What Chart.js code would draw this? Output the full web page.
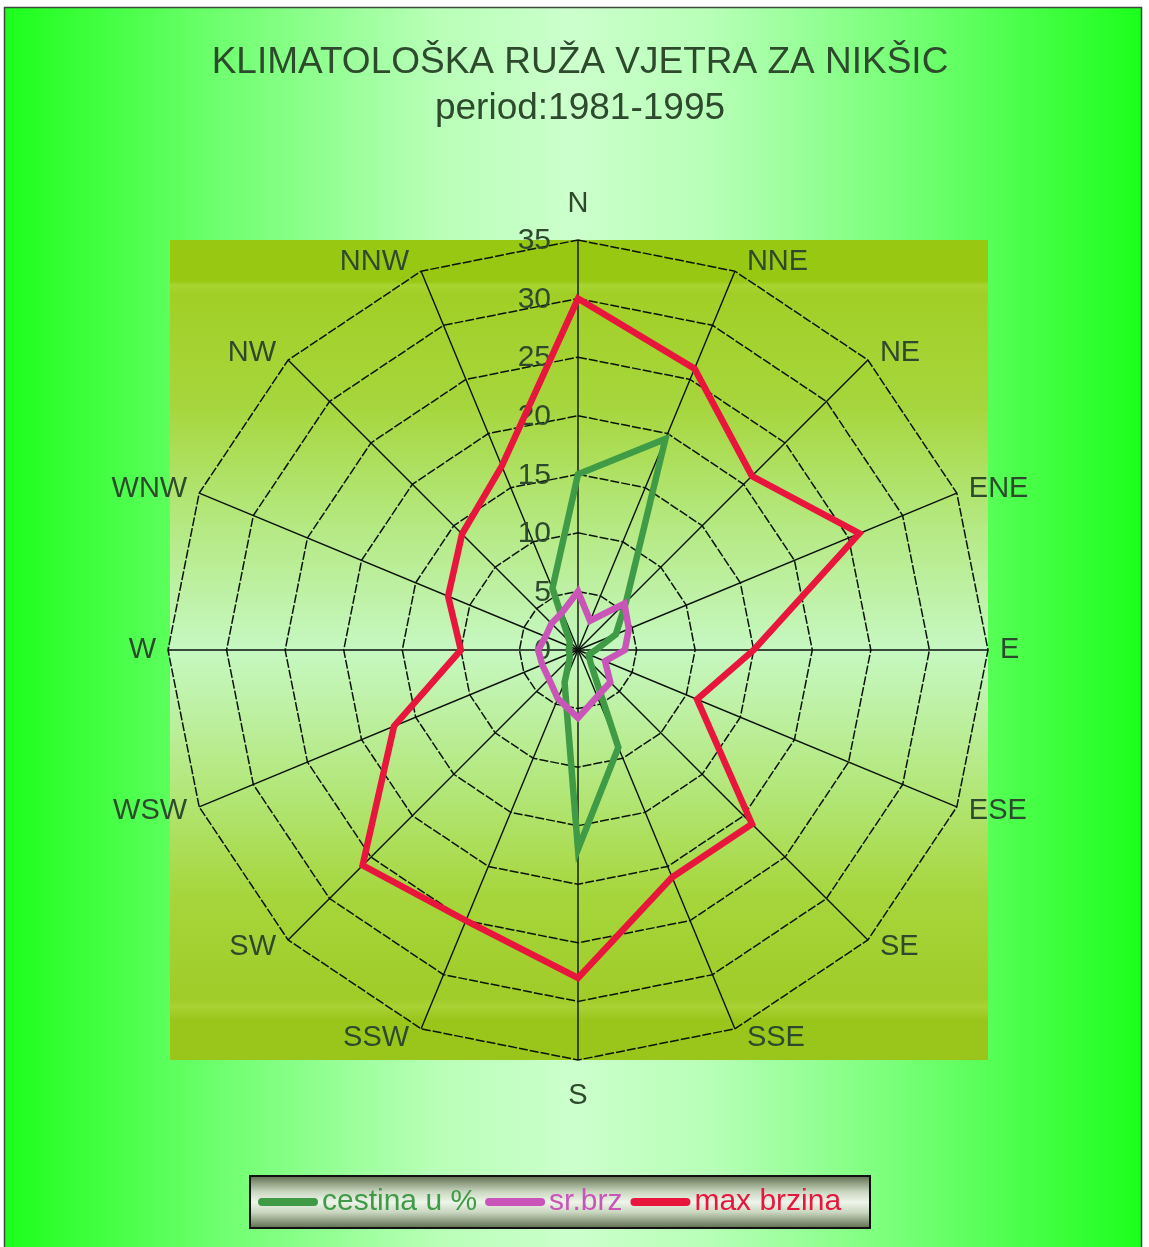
<!DOCTYPE html>
<html>
<head>
<meta charset="utf-8">
<title>Klimatološka ruža vjetra za Nikšic</title>
<script src="https://cdn.jsdelivr.net/npm/chart.js@4.4.1/dist/chart.umd.min.js"></script>
<style>
  html, body { margin: 0; padding: 0; background: #ffffff; }
  #wrap { width: 1149px; height: 1247px; position: relative; }
</style>
</head>
<body>
<div id="wrap"><canvas id="rose"></canvas></div>
<script>
// Wind directions (clockwise from north)
const directions = ['N', 'NNE', 'NE', 'ENE', 'E', 'ESE', 'SE', 'SSE', 'S', 'SSW', 'SW', 'WSW', 'W', 'WNW', 'NW', 'NNW'];
// Frequency of each direction, %
const frequency = [15, 19.5, 5.8, 3.5, 1.5, 1, 1.5, 9, 17, 3, 1, 0.8, 0.8, 0.8, 1, 5.7];
// Mean wind speed
const meanSpeed = [5, 2.7, 5.6, 4.7, 4, 2.5, 3.9, 4.3, 5.8, 4.5, 3.5, 3.3, 3.4, 3, 3.2, 3.5];
// Maximum wind speed
const maxSpeed = [30, 26, 21, 26, 15, 11, 21, 21, 28, 25, 26, 17, 10, 12, 14, 17];
// Series names
const seriesNames = ['cestina u %', 'sr.brz', 'max brzina'];
// Title lines
const titleLines = ['KLIMATOLOŠKA RUŽA VJETRA ZA NIKŠIC', 'period:1981-1995'];
// Radial axis range
const tickMin = 0;
const tickMax = 35;
const tickStep = 5;

const FONT = '"Liberation Sans", Arial, sans-serif';
const TEXT_DARK = '#2d4a2d';
const seriesColors = ['#3f9b46', '#c955b9', '#e8163c'];

// Page background, frame, shaded plot square and the title
const backdropPlugin = {
  id: 'backdrop',
  beforeDraw(chart) {
    const ctx = chart.ctx;
    const W = chart.width, H = chart.height;
    const a = chart.chartArea;
    const r = chart.scales.r;
    ctx.save();
    ctx.fillStyle = '#ffffff';
    ctx.fillRect(0, 0, W, H);

    const bg = ctx.createLinearGradient(4, 0, W - 8, 0);
    bg.addColorStop(0.00, '#1cff1c');
    bg.addColorStop(0.18, '#6bff6b');
    bg.addColorStop(0.38, '#b8ffb8');
    bg.addColorStop(0.50, '#ccffcc');
    bg.addColorStop(0.62, '#b8ffb8');
    bg.addColorStop(0.82, '#6bff6b');
    bg.addColorStop(1.00, '#1cff1c');
    ctx.fillStyle = bg;
    ctx.fillRect(4, 7, W - 12, H);
    ctx.strokeStyle = '#3c4a3c';
    ctx.lineWidth = 1.5;
    ctx.strokeRect(4.5, 7.5, W - 12, H + 20);

    const pg = ctx.createLinearGradient(0, a.top, 0, a.bottom);
    pg.addColorStop(0.000, '#98c812');
    pg.addColorStop(0.050, '#98c812');
    pg.addColorStop(0.055, '#a9d432');
    pg.addColorStop(0.065, '#a2cf26');
    pg.addColorStop(0.200, '#a6d63c');
    pg.addColorStop(0.340, '#b4e87e');
    pg.addColorStop(0.500, '#c6f8c2');
    pg.addColorStop(0.660, '#b4e87e');
    pg.addColorStop(0.800, '#a6d63c');
    pg.addColorStop(0.925, '#a0cc28');
    pg.addColorStop(0.935, '#a9d234');
    pg.addColorStop(0.950, '#9ac61c');
    pg.addColorStop(1.000, '#9ac61c');
    ctx.fillStyle = pg;
    ctx.fillRect(a.left + 2, a.top, a.right - a.left - 2, a.bottom - a.top);

    ctx.fillStyle = TEXT_DARK;
    ctx.font = '37px ' + FONT;
    ctx.textAlign = 'center';
    ctx.textBaseline = 'middle';
    ctx.fillText(titleLines[0], r.xCenter + 2, 63);
    ctx.fillText(titleLines[1], r.xCenter + 2, 109);
    ctx.restore();
  }
};

// Radial tick values, written left of the north spoke
const tickLabelPlugin = {
  id: 'tickLabels',
  beforeDatasetsDraw(chart) {
    const r = chart.scales.r;
    const ctx = chart.ctx;
    ctx.save();
    ctx.fillStyle = TEXT_DARK;
    ctx.font = '30px ' + FONT;
    ctx.textAlign = 'right';
    ctx.textBaseline = 'middle';
    r.ticks.forEach(t => {
      const d = r.getDistanceFromCenterForValue(t.value);
      ctx.fillText(String(t.value), r.xCenter - 27, r.yCenter - d + 1);
    });
    ctx.restore();
  }
};

// Direction names placed beside the outer polygon corners
const directionLabelPlugin = {
  id: 'directionLabels',
  afterDatasetsDraw(chart) {
    const r = chart.scales.r;
    const ctx = chart.ctx;
    const n = chart.data.labels.length;
    ctx.save();
    ctx.fillStyle = TEXT_DARK;
    ctx.font = '29px ' + FONT;
    ctx.textBaseline = 'middle';
    chart.data.labels.forEach((lab, i) => {
      const p = r.getPointPosition(i, r.drawingArea);
      const ang = i * 2 * Math.PI / n;
      const s = Math.sin(ang), c = Math.cos(ang);
      if (Math.abs(s) < 1e-6) {
        ctx.textAlign = 'center';
        ctx.fillText(lab, p.x, p.y - c * 36);
      } else {
        ctx.textAlign = s > 0 ? 'left' : 'right';
        ctx.fillText(lab, p.x + (s > 0 ? 12 : -12), p.y - c * 10);
      }
    });
    ctx.restore();
  }
};

// Boxed legend under the rose
const legendPlugin = {
  id: 'boxLegend',
  afterDraw(chart) {
    const ctx = chart.ctx;
    const box = { x: 250, y: 1176, w: 620, h: 52 };
    ctx.save();
    const lg = ctx.createLinearGradient(0, box.y, 0, box.y + box.h);
    lg.addColorStop(0.00, '#5f6f4f');
    lg.addColorStop(0.30, '#c9d6bf');
    lg.addColorStop(0.50, '#eef5ea');
    lg.addColorStop(0.70, '#c9d6bf');
    lg.addColorStop(1.00, '#5f6f4f');
    ctx.fillStyle = lg;
    ctx.fillRect(box.x, box.y, box.w, box.h);
    ctx.strokeStyle = '#111111';
    ctx.lineWidth = 2;
    ctx.strokeRect(box.x, box.y, box.w, box.h);

    ctx.font = '30px ' + FONT;
    ctx.textBaseline = 'middle';
    ctx.textAlign = 'left';
    const lineLen = 60, gapA = 4, gapB = 8;
    let x = box.x + 8;
    const y = box.y + box.h / 2;
    chart.data.datasets.forEach((ds) => {
      ctx.strokeStyle = ds.borderColor;
      ctx.lineWidth = 8;
      ctx.lineCap = 'round';
      ctx.beginPath();
      ctx.moveTo(x + 4, y);
      ctx.lineTo(x + lineLen - 4, y);
      ctx.stroke();
      x += lineLen + gapA;
      ctx.fillStyle = ds.borderColor;
      ctx.fillText(ds.label, x, y);
      x += ctx.measureText(ds.label).width + gapB;
    });
    ctx.restore();
  }
};

new Chart(document.getElementById('rose'), {
  type: 'radar',
  data: {
    labels: directions,
    datasets: [
      { label: seriesNames[0], data: frequency, borderColor: seriesColors[0], order: 3 },
      { label: seriesNames[1], data: meanSpeed, borderColor: seriesColors[1], order: 2 },
      { label: seriesNames[2], data: maxSpeed, borderColor: seriesColors[2], order: 1 }
    ]
  },
  options: {
    responsive: true,
    maintainAspectRatio: false,
    animation: false,
    devicePixelRatio: 1,
    layout: { padding: { left: 168, right: 161, top: 240, bottom: 187 } },
    elements: {
      line: { borderWidth: 6.5, fill: false, tension: 0, borderJoinStyle: 'miter', backgroundColor: 'transparent' },
      point: { radius: 0, hoverRadius: 0 }
    },
    plugins: {
      legend: { display: false },
      title: { display: false },
      tooltip: { enabled: false }
    },
    scales: {
      r: {
        min: tickMin,
        max: tickMax,
        startAngle: 0,
        beginAtZero: true,
        ticks: { stepSize: tickStep, display: false },
        pointLabels: { display: false },
        grid: { circular: false, color: '#0a140a', lineWidth: 1.5 },
        border: { dash: [9, 2] },
        angleLines: { color: '#0a120a', lineWidth: 1.4 }
      }
    }
  },
  plugins: [backdropPlugin, tickLabelPlugin, directionLabelPlugin, legendPlugin]
});
</script>
</body>
</html>
